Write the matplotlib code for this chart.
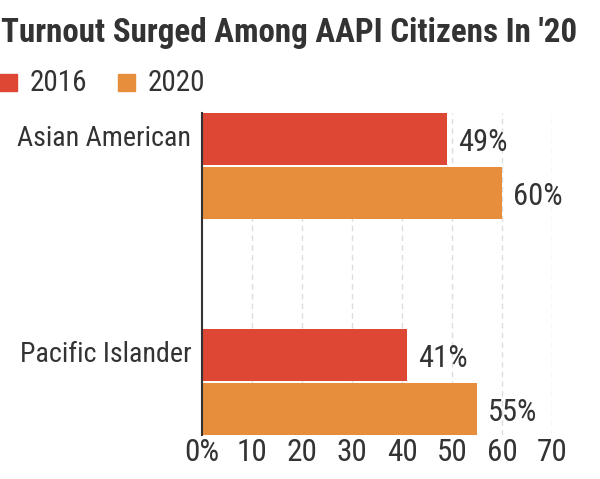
import matplotlib
matplotlib.use("Agg")
import matplotlib.pyplot as plt
from matplotlib import font_manager
from matplotlib.patches import Rectangle

categories = ["Asian American", "Pacific Islander"]
series_names = ["2016", "2020"]
values_2016 = [49, 41]
values_2020 = [60, 55]
xticks = [0, 10, 20, 30, 40, 50, 60, 70]
xtick_labels = ["0%", "10", "20", "30", "40", "50", "60", "70"]
title = "Turnout Surged Among AAPI Citizens In '20"
colors = ["#dd4733", "#e68e3c"]

avail = {f.name for f in font_manager.fontManager.ttflist}
family = "Liberation Sans"
for cand in ["Liberation Sans Narrow", "Roboto Condensed", "Arial Narrow"]:
    if cand in avail:
        family = cand
        break
plt.rcParams["font.family"] = [family, "DejaVu Sans"]
txt = "#333333"

W, H = 600, 479
fig = plt.figure(figsize=(W / 100, H / 100), dpi=100)
left, right = 202.3 / W, 552.3 / W
top, bottom = 1 - 112.7 / H, 1 - 435 / H
ax = fig.add_axes([left, bottom, right - left, top - bottom])

off = 0.125
h = 0.242
ys = list(range(len(categories)))
y16 = [y - off for y in ys]
y20 = [y + off for y in ys]
ax.barh(y16, values_2016, height=h, color=colors[0], zorder=3)
ax.barh(y20, values_2020, height=h, color=colors[1], zorder=3)

for y, v in zip(y16, values_2016):
    ax.annotate(f"{v}%", (v, y), xytext=(7.5, -2.5), textcoords="offset points",
                ha="left", va="center", fontsize=22, color=txt, annotation_clip=False)
for y, v in zip(y20, values_2020):
    ax.annotate(f"{v}%", (v, y), xytext=(7.5, -2.5), textcoords="offset points",
                ha="left", va="center", fontsize=22, color=txt, annotation_clip=False)

ax.set_xlim(0, 70)
ax.set_ylim(1 + off + h / 2, -off - h / 2)
ax.set_xticks(xticks)
ax.set_xticklabels(xtick_labels, fontsize=22.5, color=txt)
ax.set_yticks(y16)
ax.set_yticklabels(categories, fontsize=20.2, color=txt)
ax.tick_params(axis="both", length=0)
ax.tick_params(axis="x", pad=2.5)
ax.tick_params(axis="y", pad=8)
for lab in ax.get_yticklabels():
    lab.set_va("center")

for s in ["top", "right", "bottom"]:
    ax.spines[s].set_visible(False)
ax.spines["left"].set_color("#333333")
ax.spines["left"].set_linewidth(1.5)
ax.spines["left"].set_zorder(5)
ax.grid(axis="x", color="#dddddd", linewidth=1, linestyle=(0, (4, 3)), zorder=0)
ax.grid(axis="y", visible=False)
ax.set_axisbelow(True)
ax.xaxis.get_gridlines()[0].set_visible(False)

fig.text(1 / W, 1 - 42 / H, title, fontsize=23.8, fontweight="bold", color=txt,
         ha="left", va="baseline")

# legend
leg_x = [0, 118]
for x0, name, c in zip(leg_x, series_names, colors):
    fig.add_artist(Rectangle((x0 / W, 1 - 91 / H), 17 / W, 17 / H,
                             transform=fig.transFigure, color=c))
    fig.text((x0 + 30) / W, 1 - 91 / H, name, fontsize=21, color=txt,
             ha="left", va="baseline")

fig.savefig("out.png", dpi=100)
